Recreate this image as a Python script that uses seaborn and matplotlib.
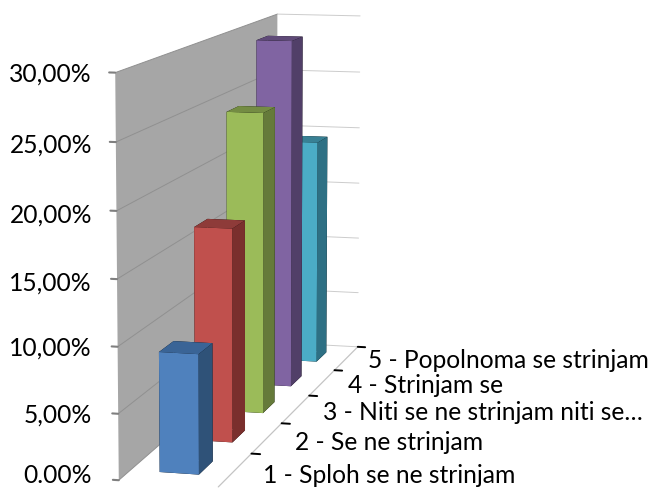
import numpy as np
import matplotlib
matplotlib.use('Agg')
import matplotlib.pyplot as plt
import seaborn as sns
from mpl_toolkits.mplot3d.art3d import Poly3DCollection

# Data

categories = ['1 - Sploh se ne strinjam', '2 - Se ne strinjam', '3 - Niti se ne strinjam niti se…',
              '4 - Strinjam se', '5 - Popolnoma se strinjam']
values = [9.1, 16.8, 24.5, 29.3, 19.5]
value_ticks = [0, 5, 10, 15, 20, 25, 30]
value_labels = ['0.00%', '5,00%', '10,00%', '15,00%', '20,00%', '25,00%', '30,00%']

front_colors = ['#4F81BD', '#C0504D', '#9BBB59', '#8064A2', '#4BACC6']
top_colors = ['#3A6496', '#8E3B39', '#748C43', '#5F4A78', '#388094']
side_colors = ['#2F5278', '#7A2F2D', '#657A3A', '#513F68', '#2E7084']

sns.set_theme(style='white')
plt.rcParams['font.family'] = ['Lato', 'DejaVu Sans']

W, H = 652, 489
fig = plt.figure(figsize=(W / 100, H / 100), dpi=100)

# camera fitted to the reference corners
scale, cx, cy = 3770.8, 250.9, 227.0
ax = fig.add_axes([0.2, 0.2, 300 / W, 300 / H], projection='3d')
ax.set_xlim(0, 1)
ax.set_ylim(0, 5)
ax.set_zlim(0, 30)
ax.set_box_aspect((0.2515, 1.6431, 1))
ax.view_init(elev=9.627, azim=-75.85)
ax.set_proj_type('persp', focal_length=0.694)
ax.set_axis_off()
ax.computed_zorder = False

# resize the axes so one projected unit is scale pixels, centred on cx, cy
ax.apply_aspect()
s0 = ax.transData.transform((1, 0))[0] - ax.transData.transform((0, 0))[0]
side = 300 * scale / s0
ax.set_position([(cx - side / 2) / W, 1 - (cy + side / 2) / H, side / W, side / H])
ax.apply_aspect()
ox, oy = ax.transData.transform((0, 0))
pos = ax.get_position()
ax.set_position([pos.x0 + (cx - ox) / W, pos.y0 + (H - cy - oy) / H, pos.width, pos.height])

# Walls and floor

left_wall = [[(0, 0, 0), (0, 5, 0), (0, 5, 30), (0, 0, 30)]]
ax.add_collection3d(Poly3DCollection(left_wall, facecolors='#A6A6A6', edgecolors='none',
                                     zorder=1, clip_on=False))

for z in value_ticks:
    ax.plot([0, 0], [0, 5], [z, z], color='#909090', lw=0.7, zorder=2, clip_on=False)
    ax.plot([0, 1], [5, 5], [z, z], color='#CCCCCC', lw=0.7, zorder=2, clip_on=False)
    ax.plot([-0.06, 0], [0, 0], [z, z], color='#7F7F7F', lw=1.5, zorder=2, clip_on=False)

ax.plot([1, 1], [0, 5], [0, 0], color='#C4C4C4', lw=0.9, zorder=2, clip_on=False)
for k in range(1, 6):
    ax.plot([1, 1.09], [k, k], [0, 0], color='black', lw=1.4, zorder=2, clip_on=False)

# Bars, back to front

for i in range(len(values) - 1, -1, -1):
    colors = ['#000000', top_colors[i], front_colors[i], '#000000', '#000000', side_colors[i]]
    ax.bar3d(0.3, i + 0.3, 0, 0.4, 0.4, values[i], color=colors, shade=False, edgecolor='none',
             zorder=10 + len(values) - i, clip_on=False)

# Labels

label_base = [483, 423, 356, 291, 223, 153, 82]
for lab, y in zip(value_labels, label_base):
    fig.text(92 / W, 1 - y / H, lab, ha='right', va='baseline', fontsize=17.7, color='black')

cat_x = [263, 295, 323, 348, 368]
cat_base = [483, 450, 420, 393, 368]
for lab, x, y in zip(categories, cat_x, cat_base):
    fig.text(x / W, 1 - y / H, lab, ha='left', va='baseline', fontsize=17.7, color='black')

fig.savefig('out.png', dpi=100)
